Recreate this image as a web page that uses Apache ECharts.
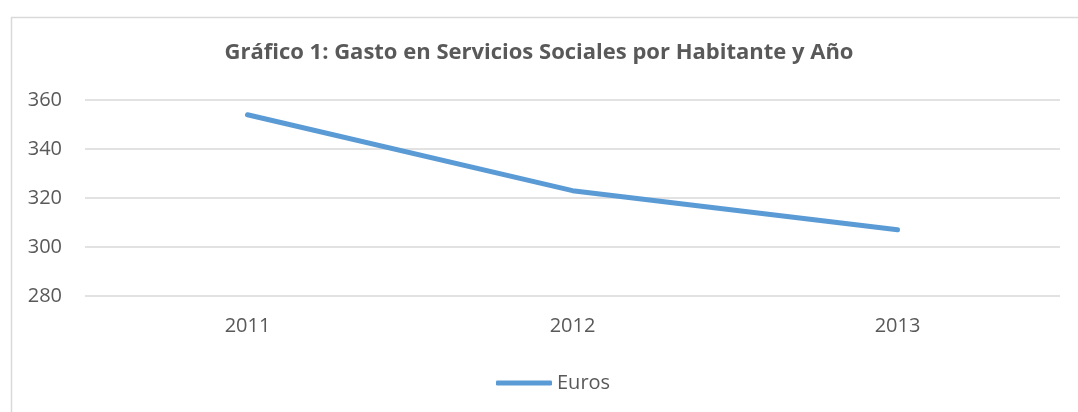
<!DOCTYPE html>
<html>
<head>
<meta charset="utf-8">
<script src="https://cdn.jsdelivr.net/npm/echarts@6/dist/echarts.min.js"></script>
<style>
html,body{margin:0;padding:0;background:#fff;}
#c{width:1078px;height:412px;}
</style>
</head>
<body>
<div id="c"></div>
<script>
const titleText = 'Gráfico 1: Gasto en Servicios Sociales por Habitante y Año';
const categories = ['2011', '2012', '2013'];
const seriesName = 'Euros';
const euros = [354, 323, 307];
const yMin = 280, yMax = 360, yStep = 20;

const chart = echarts.init(document.getElementById('c'), null, {renderer: 'canvas'});
const font = '"Open Sans", sans-serif';
chart.setOption({
  animation: false,
  backgroundColor: '#fff',
  graphic: [{
    type: 'rect', left: 9, top: 15, silent: true,
    shape: {width: 1100, height: 420},
    style: {fill: 'none', stroke: '#d9d9d9', lineWidth: 1.5}
  }],
  title: {
    text: titleText, left: 'center', top: 37,
    textStyle: {fontFamily: font, fontWeight: 'bold', fontSize: 22, color: '#595959'}
  },
  legend: {
    data: [{name: seriesName, icon: 'roundRect'}],
    left: 491, top: 368,
    itemWidth: 56, itemHeight: 5, itemGap: 5,
    textStyle: {fontFamily: font, fontSize: 20, color: '#595959'}
  },
  grid: {left: 85, right: 18, top: 100, bottom: 116, containLabel: false},
  xAxis: {
    type: 'category', data: categories, boundaryGap: true,
    axisLine: {show: false}, axisTick: {show: false},
    axisLabel: {fontFamily: font, fontSize: 20, color: '#595959', margin: 20}
  },
  yAxis: {
    type: 'value', min: yMin, max: yMax, interval: yStep,
    axisLine: {show: false}, axisTick: {show: false},
    axisLabel: {fontFamily: font, fontSize: 20, color: '#595959', margin: 23},
    splitLine: {lineStyle: {color: '#d9d9d9', width: 1.5}}
  },
  series: [{
    name: seriesName, type: 'line', data: euros,
    symbol: 'none',
    lineStyle: {color: '#5b9bd5', width: 5, cap: 'round', join: 'round'},
    itemStyle: {color: '#5b9bd5'}
  }]
});
</script>
</body>
</html>
